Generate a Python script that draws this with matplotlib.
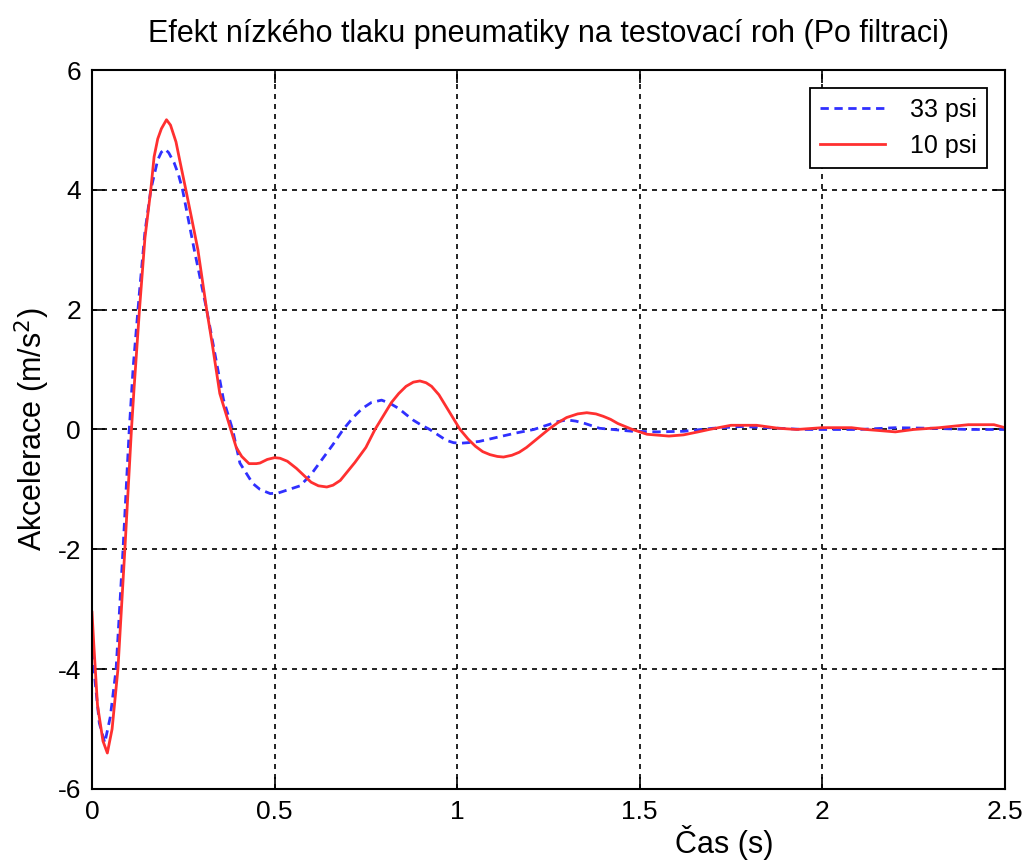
import matplotlib.pyplot as plt

plt.rcParams["font.family"] = ["Liberation Sans", "DejaVu Sans"]
plt.rcParams["axes.unicode_minus"] = False

# values
t_33 = [0.0, 0.01, 0.02, 0.035, 0.05, 0.066, 0.085, 0.102, 0.113, 0.13, 0.145,
        0.161, 0.18, 0.19, 0.2, 0.21, 0.225, 0.237, 0.248, 0.28, 0.314, 0.36,
        0.385, 0.405, 0.44, 0.46, 0.488, 0.51, 0.53, 0.57, 0.6, 0.63, 0.66,
        0.688, 0.715, 0.74, 0.765, 0.793, 0.815, 0.84, 0.86, 0.88, 0.9, 0.925,
        0.97, 0.99, 1.008, 1.03, 1.06, 1.117, 1.16, 1.21, 1.25, 1.275, 1.30,
        1.325, 1.35, 1.39, 1.48, 1.55, 1.62, 1.7, 1.78, 1.85, 1.95, 2.1, 2.2,
        2.3, 2.4, 2.5]
a_33 = [-3.7, -4.3, -4.9, -5.23, -4.8, -4.0, -2.0, 0.0, 1.06, 2.3, 3.3,
        4.0, 4.5, 4.63, 4.68, 4.62, 4.45, 4.25, 4.0, 3.0, 2.0, 0.5,
        0.0, -0.56, -0.9, -1.0, -1.07, -1.06, -1.02, -0.94, -0.75, -0.5, -0.25,
        0.0, 0.2, 0.35, 0.45, 0.49, 0.44, 0.35, 0.25, 0.155, 0.08, 0.0,
        -0.18, -0.22, -0.23, -0.22, -0.2, -0.12, -0.06, 0.0, 0.08, 0.13, 0.16,
        0.14, 0.1, 0.02, -0.03, -0.04, -0.03, 0.02, 0.05, 0.03, 0.0, 0.0, 0.03,
        0.02, 0.0, 0.0]

t_10 = [0.0, 0.005, 0.015, 0.03, 0.042, 0.055, 0.071, 0.09, 0.108, 0.115,
        0.13, 0.145, 0.161, 0.17, 0.18, 0.19, 0.204, 0.215, 0.23, 0.24, 0.257,
        0.272, 0.29, 0.314, 0.33, 0.35, 0.38, 0.395, 0.41, 0.43, 0.45, 0.46,
        0.48, 0.5, 0.515, 0.535, 0.56, 0.6, 0.62, 0.643, 0.66, 0.68, 0.72,
        0.75, 0.775, 0.8, 0.82, 0.84, 0.86, 0.88, 0.898, 0.915, 0.93, 0.95,
        0.97, 0.99, 1.008, 1.03, 1.05, 1.07, 1.09, 1.11, 1.127, 1.15, 1.17,
        1.19, 1.21, 1.23, 1.25, 1.275, 1.3, 1.33, 1.355, 1.38, 1.4, 1.42, 1.44,
        1.46, 1.48, 1.52, 1.58, 1.62, 1.66, 1.69, 1.75, 1.82, 1.88, 1.93, 2.0,
        2.08, 2.12, 2.2, 2.25, 2.32, 2.4, 2.47, 2.5]
a_10 = [-3.05, -3.6, -4.6, -5.2, -5.4, -5.0, -4.0, -2.0, 0.0, 0.67,
        2.0, 3.2, 4.0, 4.55, 4.85, 5.02, 5.17, 5.08, 4.8, 4.5, 4.0,
        3.55, 3.0, 2.0, 1.4, 0.6, 0.0, -0.3, -0.45, -0.57, -0.57, -0.56,
        -0.5, -0.47, -0.48, -0.53, -0.65, -0.88, -0.94, -0.96, -0.93, -0.85, -0.55,
        -0.3, 0.0, 0.25, 0.45, 0.6, 0.72, 0.79, 0.81, 0.78, 0.72, 0.58,
        0.38, 0.18, 0.0, -0.16, -0.28, -0.37, -0.42, -0.45, -0.46, -0.43, -0.38,
        -0.3, -0.2, -0.1, 0.0, 0.11, 0.2, 0.26, 0.28, 0.26, 0.22, 0.17, 0.1,
        0.05, 0.0, -0.08, -0.11, -0.09, -0.04, 0.0, 0.07, 0.07, 0.02, 0.0, 0.03,
        0.03, 0.0, -0.04, 0.0, 0.03, 0.08, 0.08, 0.03]

x_ticks = [0, 0.5, 1, 1.5, 2, 2.5]
x_ticklabels = ["0", "0.5", "1", "1.5", "2", "2.5"]
y_ticks = [-6, -4, -2, 0, 2, 4, 6]

fig = plt.figure(figsize=(10.28, 8.6), dpi=100)
ax = fig.add_axes([0.0895, 0.0826, 0.888, 0.836])

ax.plot(t_33, a_33, linestyle=(0, (3, 2)), color="#3030ff", lw=2.0, label="33 psi")
ax.plot(t_10, a_10, color="#ff3030", lw=2.0, label="10 psi")

ax.set_xlim(0, 2.5)
ax.set_ylim(-6, 6)
ax.set_xticks(x_ticks, x_ticklabels)
ax.set_yticks(y_ticks)
ax.tick_params(direction="in", length=9, width=1.2, labelsize=19,
               top=True, right=True, pad=8)
for s in ax.spines.values():
    s.set_linewidth(1.5)

ax.grid(True, color="black", linestyle=(0, (3, 3)), lw=1.2)

ax.set_title("Efekt nízkého tlaku pneumatiky na testovací roh (Po filtraci)",
             fontsize=22, pad=20)
ax.set_ylabel("Akcelerace (m/s$^2$)", fontsize=22, labelpad=4)
ax.set_xlabel("Čas (s)", fontsize=22, labelpad=0)
ax.xaxis.set_label_coords(0.693, -0.05)

leg = ax.legend(loc="upper right", fontsize=18, fancybox=False, framealpha=1,
                edgecolor="black", borderaxespad=0.7, handlelength=2.6,
                handletextpad=1.0)
leg.get_frame().set_linewidth(1.3)

fig.savefig("out.png", dpi=100)
